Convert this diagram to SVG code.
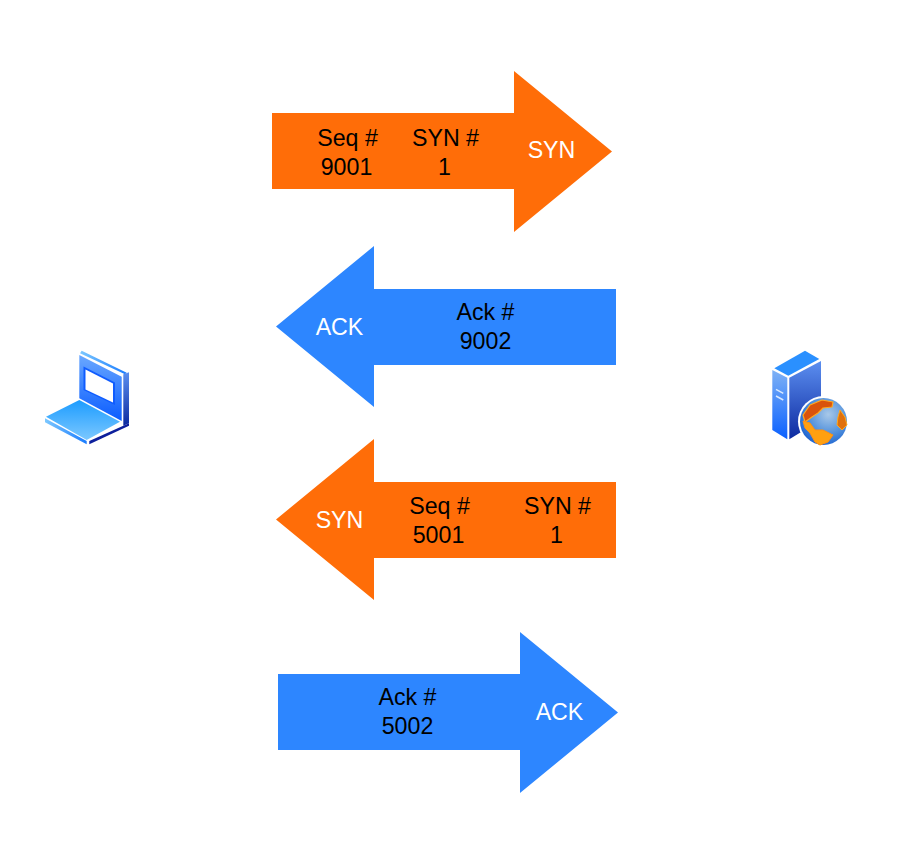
<svg xmlns="http://www.w3.org/2000/svg" width="918" height="846" viewBox="0 0 918 846">
<style>
text{font-family:"Liberation Sans",Arial,sans-serif;font-size:23.2px;text-anchor:middle;fill:#000}
text.w{fill:#fff}
.o{fill:#ff6d08}
.b{fill:#2d86ff}
</style>
<defs>
<linearGradient id="g1" x1="0" y1="0" x2="0" y2="1"><stop offset="0" stop-color="#1c9cff"/><stop offset="1" stop-color="#7cc8ff"/></linearGradient>
<linearGradient id="g2" x1="0" y1="0" x2="0" y2="1"><stop offset="0" stop-color="#6aa8ff"/><stop offset="1" stop-color="#0a5cff"/></linearGradient>
<linearGradient id="g3" x1="0" y1="0" x2="0" y2="1"><stop offset="0" stop-color="#7f9fe8"/><stop offset="1" stop-color="#0d1f9c"/></linearGradient>
<linearGradient id="g4" x1="0" y1="0" x2="1" y2="0"><stop offset="0" stop-color="#1a8cff"/><stop offset="1" stop-color="#90d8ff"/></linearGradient>
<linearGradient id="g5" x1="0" y1="0" x2="0" y2="1"><stop offset="0" stop-color="#7fb2f5"/><stop offset="1" stop-color="#0a60ff"/></linearGradient>
<linearGradient id="g7" x1="0" y1="0" x2="1" y2="0"><stop offset="0" stop-color="#7cc8ff"/><stop offset="1" stop-color="#1a7cff"/></linearGradient>
<linearGradient id="g8" x1="0" y1="0" x2="0" y2="1"><stop offset="0" stop-color="#5c8ff0"/><stop offset="1" stop-color="#0d2aa0"/></linearGradient>
<radialGradient id="g6" cx="0.6" cy="0.35" r="0.7"><stop offset="0" stop-color="#a8c8e8"/><stop offset="0.6" stop-color="#5090dc"/><stop offset="1" stop-color="#1a60d0"/></radialGradient>
</defs>
<g id="connectors">
<polygon id="arrow-syn-1" class="o" points="272,113 514,113 514,71 612,151.5 514,232 514,189 272,189"/>
<polygon id="arrow-ack-1" class="b" points="616,289 374,289 374,246 276,326.5 374,407 374,365 616,365"/>
<polygon id="arrow-syn-2" class="o" points="616,482 374,482 374,439 276,519.5 374,600 374,558 616,558"/>
<polygon id="arrow-ack-2" class="b" points="278,674 520,674 520,632 618,712.5 520,793 520,750 278,750"/>
</g>
<g id="label-syn-1">
<text x="347.5" y="146">Seq #</text><text x="346.5" y="175">9001</text>
<text x="445.5" y="146">SYN #</text><text x="444.5" y="175">1</text>
<text class="w" x="551.5" y="158">SYN</text>
</g>
<g id="label-ack-1">
<text x="485.5" y="320">Ack #</text><text x="485.5" y="349">9002</text>
<text class="w" x="339.5" y="335">ACK</text>
</g>
<g id="label-syn-2">
<text x="439.5" y="514">Seq #</text><text x="438.5" y="543">5001</text>
<text x="557.5" y="514">SYN #</text><text x="556.5" y="543">1</text>
<text class="w" x="339.5" y="528">SYN</text>
</g>
<g id="label-ack-2">
<text x="407.5" y="705">Ack #</text><text x="407.5" y="734">5002</text>
<text class="w" x="559.5" y="720">ACK</text>
</g>
<g id="client">
<polygon points="81.7,350.7 126.7,372.7 125,374.3 80,353.3" fill="url(#g7)"/>
<polygon points="79.3,355 121.7,376.7 121.7,421 79.3,398.3" fill="url(#g2)"/>
<polygon points="83.5,366.5 115,382.5 115,405 83.5,390" fill="#0f5cff"/>
<polygon points="85.5,369.5 113,383.5 113,402.5 85.5,389.5" fill="#fff"/>
<polygon points="123.3,374.3 129,372.3 129,423.3 123.3,425.7" fill="url(#g8)"/>
<polygon points="79.3,400 120,421.7 86.7,440 46,416.7" fill="url(#g1)"/>
<polygon points="45,418.3 86.7,441 86.7,444.3 45,422.3" fill="url(#g7)"/>
<polygon points="89.3,441 123.3,425.7 129,423.3 129,425.7 89.3,444.3" fill="#0d1f9c"/>
</g>
<g id="server">
<polygon points="805,350.7 819.3,359 788.3,375.7 774.3,368.3" fill="#2a90ff"/>
<polygon points="772.3,370 787.3,377.7 787.3,439.3 772.3,430" fill="url(#g5)"/>
<polygon points="789.3,377.7 821,361 821,420 789.3,439.3" fill="url(#g8)"/>
<path d="M776 389.3l7.3 4M776 396l7.3 4" stroke="#d8e8ff" stroke-width="1.5" fill="none"/>
<circle cx="823.5" cy="421.5" r="25.5" fill="#fff"/>
<circle cx="823.5" cy="421.5" r="23.5" fill="url(#g6)"/>
<polygon points="803,415 810,405 822,400 833,402 832,407 823,408 818,413 812,417 805,422" fill="#d9530c" stroke="#ffa820" stroke-width="1.2" stroke-linejoin="round"/>
<polygon points="803,421 810,423 815,430 823,430 833,435 828,442 820,445 815,442 810,433 805,428" fill="#ffa010" stroke="#ff9010" stroke-linejoin="round"/>
<polygon points="840,410 845,417 847,425 842,430 837,425 838,417" fill="#e0700c" stroke="#ffa820" stroke-linejoin="round"/>
</g>
</svg>
